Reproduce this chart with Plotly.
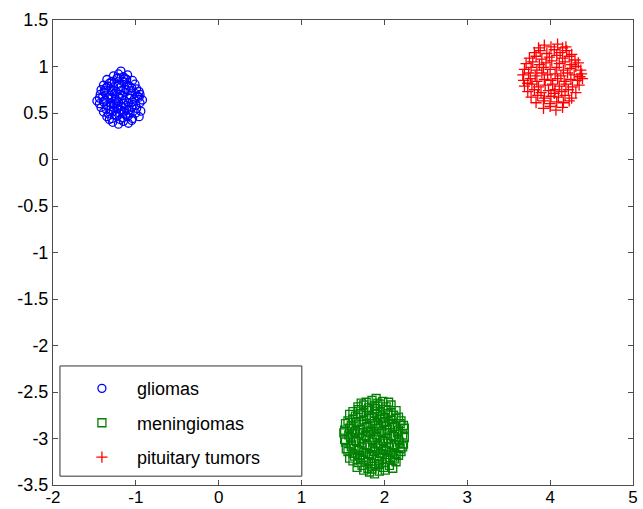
import plotly.graph_objects as go

# ---- data ----
class_names = ["gliomas", "meningiomas", "pituitary tumors"]

gliomas_xy = [
    (-1.27,0.90),(-1.21,0.92),(-1.15,0.89),(-1.10,0.91),
    (-1.35,0.86),(-1.29,0.84),(-1.23,0.87),(-1.16,0.84),(-1.11,0.86),(-1.04,0.85),
    (-1.39,0.80),(-1.32,0.82),(-1.27,0.78),(-1.21,0.81),(-1.14,0.83),(-1.08,0.79),(-1.01,0.81),
    (-1.42,0.75),(-1.36,0.77),(-1.30,0.75),(-1.24,0.73),(-1.18,0.78),(-1.12,0.75),(-1.05,0.77),(-0.99,0.76),(-0.96,0.73),
    (-1.43,0.70),(-1.38,0.72),(-1.31,0.69),(-1.26,0.71),(-1.19,0.70),(-1.13,0.72),(-1.07,0.69),(-1.01,0.71),(-0.95,0.70),
    (-1.44,0.66),(-1.37,0.64),(-1.33,0.67),(-1.25,0.65),(-1.20,0.67),(-1.14,0.64),(-1.08,0.66),(-1.02,0.65),(-0.96,0.67),
    (-1.44,0.60),(-1.39,0.62),(-1.31,0.61),(-1.27,0.59),(-1.21,0.62),(-1.15,0.60),(-1.09,0.61),(-1.03,0.59),(-0.95,0.61),
    (-1.42,0.56),(-1.36,0.54),(-1.30,0.57),(-1.23,0.55),(-1.17,0.57),(-1.11,0.54),(-1.05,0.56),(-0.99,0.55),(-0.94,0.52),
    (-1.39,0.51),(-1.33,0.49),(-1.27,0.52),(-1.20,0.50),(-1.14,0.51),(-1.07,0.49),(-1.00,0.50),(-0.96,0.46),
    (-1.35,0.46),(-1.29,0.44),(-1.23,0.47),(-1.16,0.45),(-1.10,0.46),(-1.04,0.44),
    (-1.28,0.40),(-1.21,0.38),(-1.15,0.41),(-1.09,0.39),
    (-1.34,0.79),(-1.26,0.83),(-1.18,0.74),(-1.10,0.80),(-1.40,0.68),(-1.29,0.66),(-1.16,0.69),(-1.04,0.62),
    (-1.35,0.58),(-1.24,0.61),(-1.12,0.58),(-1.00,0.58),(-1.31,0.53),(-1.18,0.53),(-1.08,0.53),(-1.25,0.48),
    (-1.12,0.48),(-1.19,0.43),(-1.22,0.88),(-1.13,0.87),(-1.38,0.74),(-0.98,0.68),(-1.47,0.63),(-0.92,0.64),
    (-1.06,0.74),(-1.29,0.73),(-1.22,0.57),(-1.05,0.42),(-1.32,0.43),(-1.18,0.95),
]

meningiomas_xy = [
    (1.78,-2.61),(1.85,-2.59),(1.92,-2.62),(1.98,-2.60),
    (1.68,-2.66),(1.75,-2.64),(1.81,-2.67),(1.88,-2.65),(1.95,-2.63),(2.02,-2.66),(2.08,-2.64),
    (1.62,-2.71),(1.69,-2.69),(1.75,-2.72),(1.82,-2.70),(1.89,-2.68),(1.95,-2.71),(2.01,-2.69),(2.08,-2.72),(2.14,-2.70),
    (1.58,-2.74),(1.65,-2.76),(1.71,-2.73),(1.78,-2.75),(1.84,-2.77),(1.91,-2.74),(1.97,-2.76),(2.04,-2.73),(2.11,-2.75),(2.17,-2.77),
    (1.56,-2.81),(1.62,-2.79),(1.69,-2.82),(1.75,-2.80),(1.82,-2.78),(1.88,-2.81),(1.95,-2.79),(2.01,-2.82),(2.08,-2.80),(2.14,-2.78),(2.20,-2.81),
    (1.53,-2.84),(1.60,-2.86),(1.66,-2.83),(1.73,-2.85),(1.80,-2.87),(1.86,-2.84),(1.93,-2.86),(1.99,-2.83),(2.06,-2.85),(2.12,-2.87),(2.19,-2.84),(2.23,-2.86),
    (1.52,-2.91),(1.58,-2.89),(1.65,-2.92),(1.71,-2.90),(1.78,-2.88),(1.84,-2.91),(1.91,-2.89),(1.97,-2.92),(2.04,-2.90),(2.10,-2.88),(2.17,-2.91),(2.24,-2.89),
    (1.51,-2.94),(1.57,-2.96),(1.64,-2.93),(1.70,-2.95),(1.77,-2.97),(1.83,-2.94),(1.90,-2.96),(1.96,-2.93),(2.03,-2.95),(2.09,-2.97),(2.16,-2.94),(2.22,-2.96),
    (1.52,-3.01),(1.59,-2.99),(1.65,-3.02),(1.72,-3.00),(1.78,-2.98),(1.85,-3.01),(1.91,-2.99),(1.98,-3.02),(2.04,-3.00),(2.11,-2.98),(2.17,-3.01),(2.24,-2.99),
    (1.53,-3.04),(1.60,-3.06),(1.66,-3.03),(1.73,-3.05),(1.79,-3.07),(1.86,-3.04),(1.92,-3.06),(1.99,-3.03),(2.05,-3.05),(2.12,-3.07),(2.18,-3.04),(2.23,-3.06),
    (1.54,-3.11),(1.60,-3.09),(1.67,-3.12),(1.73,-3.10),(1.80,-3.08),(1.86,-3.11),(1.93,-3.09),(1.99,-3.12),(2.06,-3.10),(2.12,-3.08),(2.19,-3.11),(2.22,-3.09),
    (1.56,-3.14),(1.62,-3.16),(1.69,-3.13),(1.75,-3.15),(1.82,-3.17),(1.88,-3.14),(1.95,-3.16),(2.01,-3.13),(2.08,-3.15),(2.14,-3.17),(2.20,-3.14),
    (1.58,-3.21),(1.64,-3.19),(1.71,-3.22),(1.77,-3.20),(1.84,-3.18),(1.90,-3.21),(1.97,-3.19),(2.03,-3.22),(2.10,-3.20),(2.17,-3.18),
    (1.62,-3.24),(1.68,-3.26),(1.75,-3.23),(1.81,-3.25),(1.88,-3.27),(1.94,-3.24),(2.01,-3.26),(2.07,-3.23),(2.14,-3.25),
    (1.67,-3.31),(1.73,-3.29),(1.80,-3.32),(1.86,-3.30),(1.93,-3.28),(1.99,-3.31),(2.06,-3.29),(2.10,-3.32),
    (1.75,-3.34),(1.82,-3.36),(1.88,-3.38),(1.94,-3.35),(2.01,-3.34),
    (1.90,-2.57),(1.72,-2.62),(2.05,-2.61),(1.80,-2.93),(1.95,-3.05),(1.70,-3.18),(2.00,-2.78),(1.85,-3.33),
    (2.12,-3.22),(1.62,-2.95),(1.88,-2.73),(2.03,-3.17),
]

pituitary_xy = [
    (3.93,1.23),(4.01,1.21),(4.09,1.24),(4.15,1.20),
    (3.81,1.15),(3.88,1.17),(3.96,1.14),(4.05,1.18),(4.12,1.15),(4.20,1.17),(4.26,1.13),
    (3.75,1.09),(3.83,1.11),(3.90,1.08),(3.99,1.10),(4.08,1.12),(4.15,1.09),(4.23,1.11),(4.30,1.07),
    (3.71,1.03),(3.79,1.05),(3.87,1.02),(3.95,1.04),(4.02,1.06),(4.11,1.03),(4.18,1.05),(4.26,1.02),(4.34,1.04),
    (3.69,0.97),(3.77,0.99),(3.84,0.96),(3.92,0.99),(4.00,0.97),(4.08,0.99),(4.16,0.96),(4.24,0.98),(4.31,1.00),(4.37,0.96),
    (3.67,0.91),(3.74,0.93),(3.82,0.90),(3.90,0.93),(3.97,0.91),(4.06,0.92),(4.13,0.90),(4.21,0.93),(4.29,0.91),(4.38,0.92),
    (3.68,0.85),(3.76,0.87),(3.84,0.84),(3.93,0.86),(4.01,0.85),(4.09,0.87),(4.17,0.84),(4.25,0.86),(4.33,0.85),(4.39,0.87),
    (3.69,0.79),(3.78,0.81),(3.86,0.78),(3.94,0.80),(4.03,0.81),(4.11,0.79),(4.19,0.81),(4.27,0.78),(4.35,0.80),
    (3.73,0.73),(3.81,0.75),(3.89,0.72),(3.98,0.74),(4.06,0.75),(4.14,0.73),(4.22,0.75),(4.31,0.72),
    (3.77,0.67),(3.85,0.69),(3.93,0.66),(4.01,0.68),(4.10,0.67),(4.18,0.69),(4.26,0.66),
    (3.83,0.61),(3.92,0.63),(4.00,0.60),(4.08,0.62),(4.16,0.61),(4.23,0.63),
    (3.92,0.55),(4.00,0.57),(4.07,0.53),(4.15,0.56),
    (3.86,1.20),(4.19,1.21),(3.73,0.82),(4.36,0.89),(4.05,0.71),
]

x_ticks = [-2, -1, 0, 1, 2, 3, 4, 5]
y_ticks = [-3.5, -3, -2.5, -2, -1.5, -1, -0.5, 0, 0.5, 1, 1.5]
y_tick_labels = ["-3.5", "-3", "-2.5", "-2", "-1.5", "-1", "-0.5", "0", "0.5", "1", "1.5"]

# ---- styles ----
series = [
    (class_names[0], gliomas_xy, "circle-open", "#0000FF", 8),
    (class_names[1], meningiomas_xy, "square-open", "#008000", 8),
    (class_names[2], pituitary_xy, "cross-thin-open", "#FF0000", 8),
]

FONT = "Liberation Sans, Arial, sans-serif"
AXIS_COLOR = "#4d4d4d"

fig = go.Figure()
for i, (name, pts, sym, col, sz) in enumerate(series):
    fig.add_trace(go.Scatter(
        x=[p[0] for p in pts], y=[p[1] for p in pts],
        mode="markers", name=name, legendgroup=f"g{i}",
        marker=dict(symbol=sym, size=sz, color=col, line=dict(width=1.3, color=col)),
    ))

axis_common = dict(
    showgrid=False, zeroline=False, showline=True, linecolor=AXIS_COLOR, linewidth=1,
    mirror="ticks", ticks="inside", ticklen=5, tickwidth=1, tickcolor=AXIS_COLOR,
    automargin=False,
)

fig.update_xaxes(range=[-2, 5], tickvals=x_ticks, ticktext=[str(v) for v in x_ticks],
                 tickfont=dict(family=FONT, size=17, color="#000000"),
                 ticklabelstandoff=-3, **axis_common)
fig.update_yaxes(range=[-3.5, 1.5], tickvals=y_ticks, ticktext=y_tick_labels,
                 tickfont=dict(family=FONT, size=18, color="#000000"), **axis_common)

fig.add_shape(type="rect", xref="paper", yref="paper",
              x0=0.012, x1=0.429, y0=0.019, y1=0.256,
              line=dict(color="#333333", width=1), fillcolor="white", layer="below")

fig.update_layout(
    width=643, height=509,
    margin=dict(l=53, r=10, t=20, b=24),
    paper_bgcolor="white", plot_bgcolor="white",
    showlegend=True,
    legend=dict(x=0.024, y=0.247, xanchor="left", yanchor="top",
                bgcolor="rgba(0,0,0,0)", borderwidth=0,
                font=dict(family=FONT, size=18, color="#000000"),
                itemwidth=60, tracegroupgap=8),
)

fig.write_html("out.html")
